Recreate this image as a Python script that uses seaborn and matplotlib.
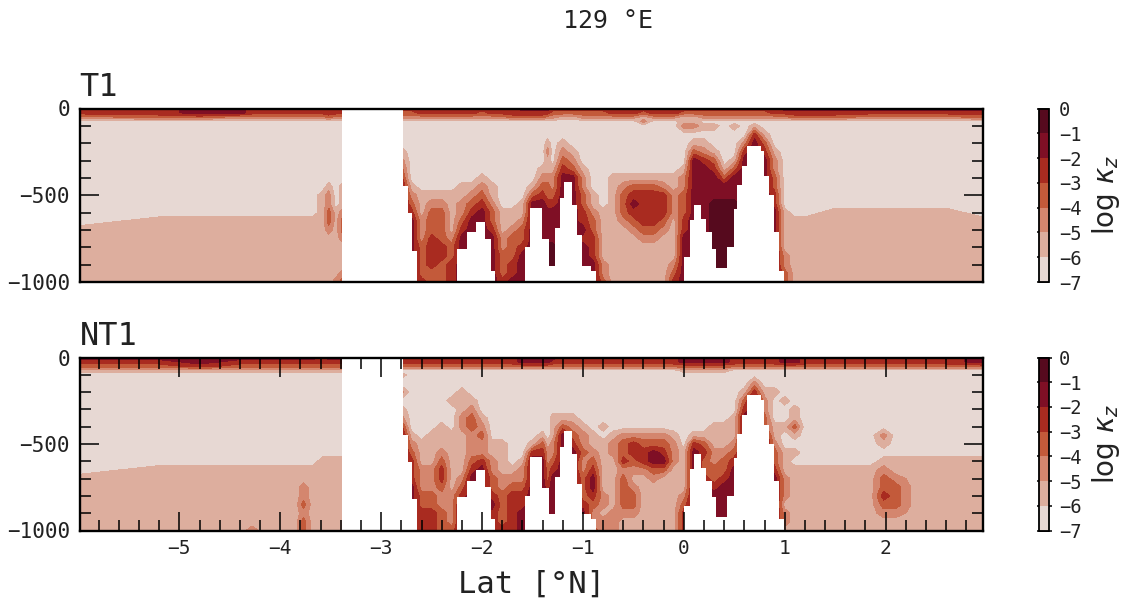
import numpy as np
import seaborn as sns
import matplotlib
matplotlib.use("Agg")
import matplotlib.pyplot as plt
from matplotlib.colors import ListedColormap, BoundaryNorm
from matplotlib.ticker import MultipleLocator

# depth levels of each profile string [m]
depths = [0, 25, 50, 75, 100, 150, 200, 250, 300, 350, 400, 450, 500, 550, 600,
          650, 700, 750, 800, 850, 900, 950, 1000]

lats = [-5.99, -5.2, -4.8, -4.4, -4.28, -4.15, -3.85, -3.77, -3.68, -3.58, -3.52, -3.45, -3.38, -3.3,
        -2.8, -2.7, -2.6, -2.5, -2.4, -2.3, -2.2, -2.1, -2.0, -1.9, -1.8, -1.7, -1.6, -1.5, -1.4, -1.35,
        -1.3, -1.2, -1.1, -1.0, -0.9, -0.8, -0.7, -0.6, -0.5, -0.4, -0.3, -0.2, -0.1,
        0.0, 0.1, 0.2, 0.3, 0.4, 0.5, 0.6, 0.7, 0.8, 0.9, 1.0,
        1.1, 1.2, 1.5, 1.85, 1.98, 2.1, 2.3, 2.6, 2.96]

# one string per latitude; digit d = colour band, log kappa between d-7 and d-6
t1_profiles = [
    "4420 0000000 000001 111111", "4430 0000000 000011 111111", "5530 0000000 000011 111111",
    "5520 0000000 000011 111111", "4420 0000000 000011 111111", "4420 0000000 000011 111111",
    "4420 0000000 000011 111111", "4420 0000000 000011 111111", "4420 0000000 000011 111111",
    "4420 0000000 011111 111111", "4430 0000000 122332 111111", "4420 0000000 000111 111112",
    "4420 0000000 111233 211123", "4420 0000000 111233 211123",
    "4320 0001234 555555 555555", "4320 0000000 123455 555555", "4420 0000000 011122 233334",
    "4420 0000000 012333 444433", "4420 0000000 012333 344333", "4420 0000000 011111 233444",
    "4420 0000000 112234 555555", "4420 0000000 123455 555555", "4320 0000001 234555 555555",
    "4420 0000000 112334 555555", "4420 0000000 000111 223334", "4430 0000000 000112 333445",
    "5430 0000000 001123 345555", "5430 0000000 135555 555555", "5430 0000012 345555 555555",
    "5420 0012112 334555 566666",
    "4320 0000012 234555 566666", "4310 0012345 555555 555555", "4310 0001235 555555 555555",
    "4320 0000012 233445 455555", "4320 0000000 011233 444555", "4320 0000000 000111 111223",
    "4420 0000001 111111 111111", "4420 0000001 233321 111111", "4420 0000001 345432 111111",
    "4312 0000001 344443 211111", "4420 0000001 344443 211111", "4420 0000001 244432 111111",
    "4420 0000001 122211 111234",
    "4311 2000012 233344 555555", "4311 2013555 555555 555555", "4320 1012455 555555 555555",
    "4320 1001345 556666 666666", "4320 0000013 556666 666666", "4320 1000135 556666 666666",
    "4320 0024555 555555 555555", "4320 1455555 555555 555555", "4320 0134555 555555 555555",
    "4420 0001223 344555 555555", "5420 0000000 000111 112233",
    "5430 0000000 000011 111111", "5430 0000000 000011 111111", "5430 0000000 000111 111111",
    "5420 0000000 000111 111111", "5420 0000000 000111 111111", "5420 0000000 000111 111111",
    "5420 0000000 000111 111111", "5420 0000000 000111 111111", "5430 0000000 000011 111111",
]

nt1_profiles = [
    "5431 0000000 000001 111111", "5431 0000000 000011 111111", "5541 0000000 000011 111111",
    "5431 0000000 000011 111111", "5431 0000000 000011 111112", "5431 0000000 000011 111111",
    "5431 0000000 000011 111111", "5431 0000000 000011 223233", "5431 0000000 000011 111111",
    "4431 0000000 000111 111111", "5431 0000000 000111 111111", "5431 0000000 000111 111111",
    "5431 0000000 000111 111111", "5431 0000000 000111 111111",
    "4430 1020124 555555 555555", "4430 0000000 123444 555555", "4430 0000000 011122 233444",
    "4430 0000000 111122 233444", "4430 0000001 112344 322333", "4430 0001000 111111 122223",
    "4430 0011122 111112 345555", "4430 0001233 222345 555555", "4430 0000012 322455 555555",
    "4430 0000000 011223 345444", "4430 0000000 011112 233334", "4430 0000000 000012 344444",
    "5530 0000000 000122 344555", "5530 0000000 014555 555555", "5530 0000000 134555 555555",
    "5530 0000000 012233 455555",
    "5430 0000011 122345 555555", "4430 0000013 555555 555555", "4430 0000012 345555 555555",
    "4430 0000001 223223 334555", "4430 0000000 112345 543223", "4430 0000001 011111 122122",
    "4430 0000000 122111 111222", "4430 0000000 233423 333211", "4430 0000000 244321 233211",
    "4430 0000000 234421 111111", "4430 0000000 235532 111111", "4430 0000000 234531 111111",
    "4430 0000000 122211 111111",
    "5531 0000000 001111 123444", "5531 0000000 145555 555555", "5531 0000000 134334 555555",
    "5531 0000001 112233 455555", "5531 0000001 112334 555555", "4430 0000011 123455 555555",
    "4430 0013455 555555 555555", "4430 0245555 555555 555555", "4430 0012233 555555 555555",
    "4430 0010001 123345 555555", "5530 0001001 001112 221221",
    "5530 0000113 101011 111111", "4430 0000000 000011 111111", "4430 0000000 000011 111111",
    "4430 0000000 000011 111111", "4430 0000000 210123 343211", "4430 0000000 000112 333211",
    "4430 0000000 000111 111111", "4430 0000000 000111 111111", "5530 0000000 000111 111111",
]

# sea floor as steps: depth applies from each left edge to the next edge
floor_lat = [-5.99, -3.388, -2.786, -2.733, -2.693, -2.644, -2.247, -2.148, -2.065, -1.966, -1.916, -1.867,
             -1.576, -1.526, -1.404, -1.337, -1.278, -1.232, -1.189, -1.106, -1.056, -1.007, -0.924, -0.875,
             0.002, 0.058, 0.101, 0.167, 0.223, 0.276, 0.323, 0.432, 0.498, 0.531, 0.581, 0.630, 0.762, 0.795,
             0.845, 0.895, 0.944, 0.994, 2.96]
floor_depth = [1000, 0, 448, 604, 819, 1000, 809, 711, 653, 750, 936, 1000,
               799, 575, 754, 906, 688, 517, 423, 555, 731, 906, 936, 1000,
               858, 643, 555, 637, 711, 809, 922, 800, 580, 440, 330, 214, 245, 390,
               500, 711, 936, 1000, 1000]

band_colors = ["#E7D8D3", "#DDAE9E", "#D4866E", "#C35A3A", "#A92B20", "#7F0F25", "#560A1E"]
levels = [-7, -6, -5, -4, -3, -2, -1, 0]
x_ticks = [-5, -4, -3, -2, -1, 0, 1, 2]

sns.set_theme(style="white")
plt.rcParams["font.family"] = ["DejaVu Sans Mono", "DejaVu Sans"]
plt.rcParams["axes.unicode_minus"] = True

W, H = 1124, 600
fig = plt.figure(figsize=(W / 100, H / 100), dpi=100, facecolor="white")
cmap = ListedColormap(sns.color_palette(band_colors))
norm = BoundaryNorm(levels, cmap.N)


def box(x0, y0, x1, y1):
    return [x0 / W, 1 - y1 / H, (x1 - x0) / W, (y1 - y0) / H]


def grid(profiles):
    cols = [[int(c) - 6.5 for c in p.replace(" ", "")] for p in profiles]
    assert all(len(c) == len(depths) for c in cols)
    assert len(cols) == len(lats)
    return np.array(cols).T


def panel(profiles, title, y0, y1, show_x):
    ax = fig.add_axes(box(79.5, y0, 982.5, y1))
    cs = ax.contourf(lats, -np.array(depths), grid(profiles), levels=levels, cmap=cmap, norm=norm)
    ax.fill_between(floor_lat, -np.array(floor_depth), -1000, step="post", color="white", lw=0, zorder=1.2)
    ax.set_axisbelow(False)
    ax.set_xlim(-5.99, 2.96)
    ax.set_ylim(-1000, 0)
    ax.set_yticks([0, -500, -1000])
    ax.yaxis.set_minor_locator(MultipleLocator(100))
    ax.tick_params(axis="y", which="major", direction="in", length=14, width=1.1, left=True, right=True,
                   labelsize=15, pad=7, color="black", labelcolor="#222222")
    ax.tick_params(axis="y", which="minor", direction="in", length=8, width=1.1, left=True, right=True, color="black")
    if show_x:
        ax.set_xticks(x_ticks)
        ax.xaxis.set_minor_locator(MultipleLocator(0.2))
        ax.tick_params(axis="x", which="major", direction="in", length=14, width=1.1, top=True, bottom=True,
                       labelsize=14, pad=6, color="black", labelcolor="#222222")
        ax.tick_params(axis="x", which="minor", direction="in", length=8, width=1.1, top=True, bottom=True,
                       color="black")
        ax.set_xlabel("Lat [°N]", fontsize=22, labelpad=8.5, color="#222222")
    else:
        ax.tick_params(axis="x", which="both", bottom=False, top=False, labelbottom=False)
    for s in ax.spines.values():
        s.set_visible(True)
        s.set_linewidth(1.7)
        s.set_color("black")
    ax.set_title(title, loc="left", fontsize=23, pad=9, color="#222222")

    cax = fig.add_axes(box(1039, y0, 1049, y1))
    cb = fig.colorbar(cs, cax=cax, ticks=levels)
    cb.outline.set_linewidth(1.3)
    cb.outline.set_edgecolor("black")
    cax.tick_params(direction="in", length=9, width=1.1, left=True, right=True, labelsize=13.5, pad=7,
                    color="black", labelcolor="#222222")
    cb.set_label(r"$\log\,\kappa_z$", fontsize=20, labelpad=6, color="#222222")
    return ax


panel(t1_profiles, "T1", 108.5, 282, False)
panel(nt1_profiles, "NT1", 357.5, 530.5, True)
fig.text(608 / W, 1 - 21 / H, "129 °E", ha="center", va="center", fontsize=18, color="#222222")
fig.savefig("out.png", dpi=100, facecolor="white")
